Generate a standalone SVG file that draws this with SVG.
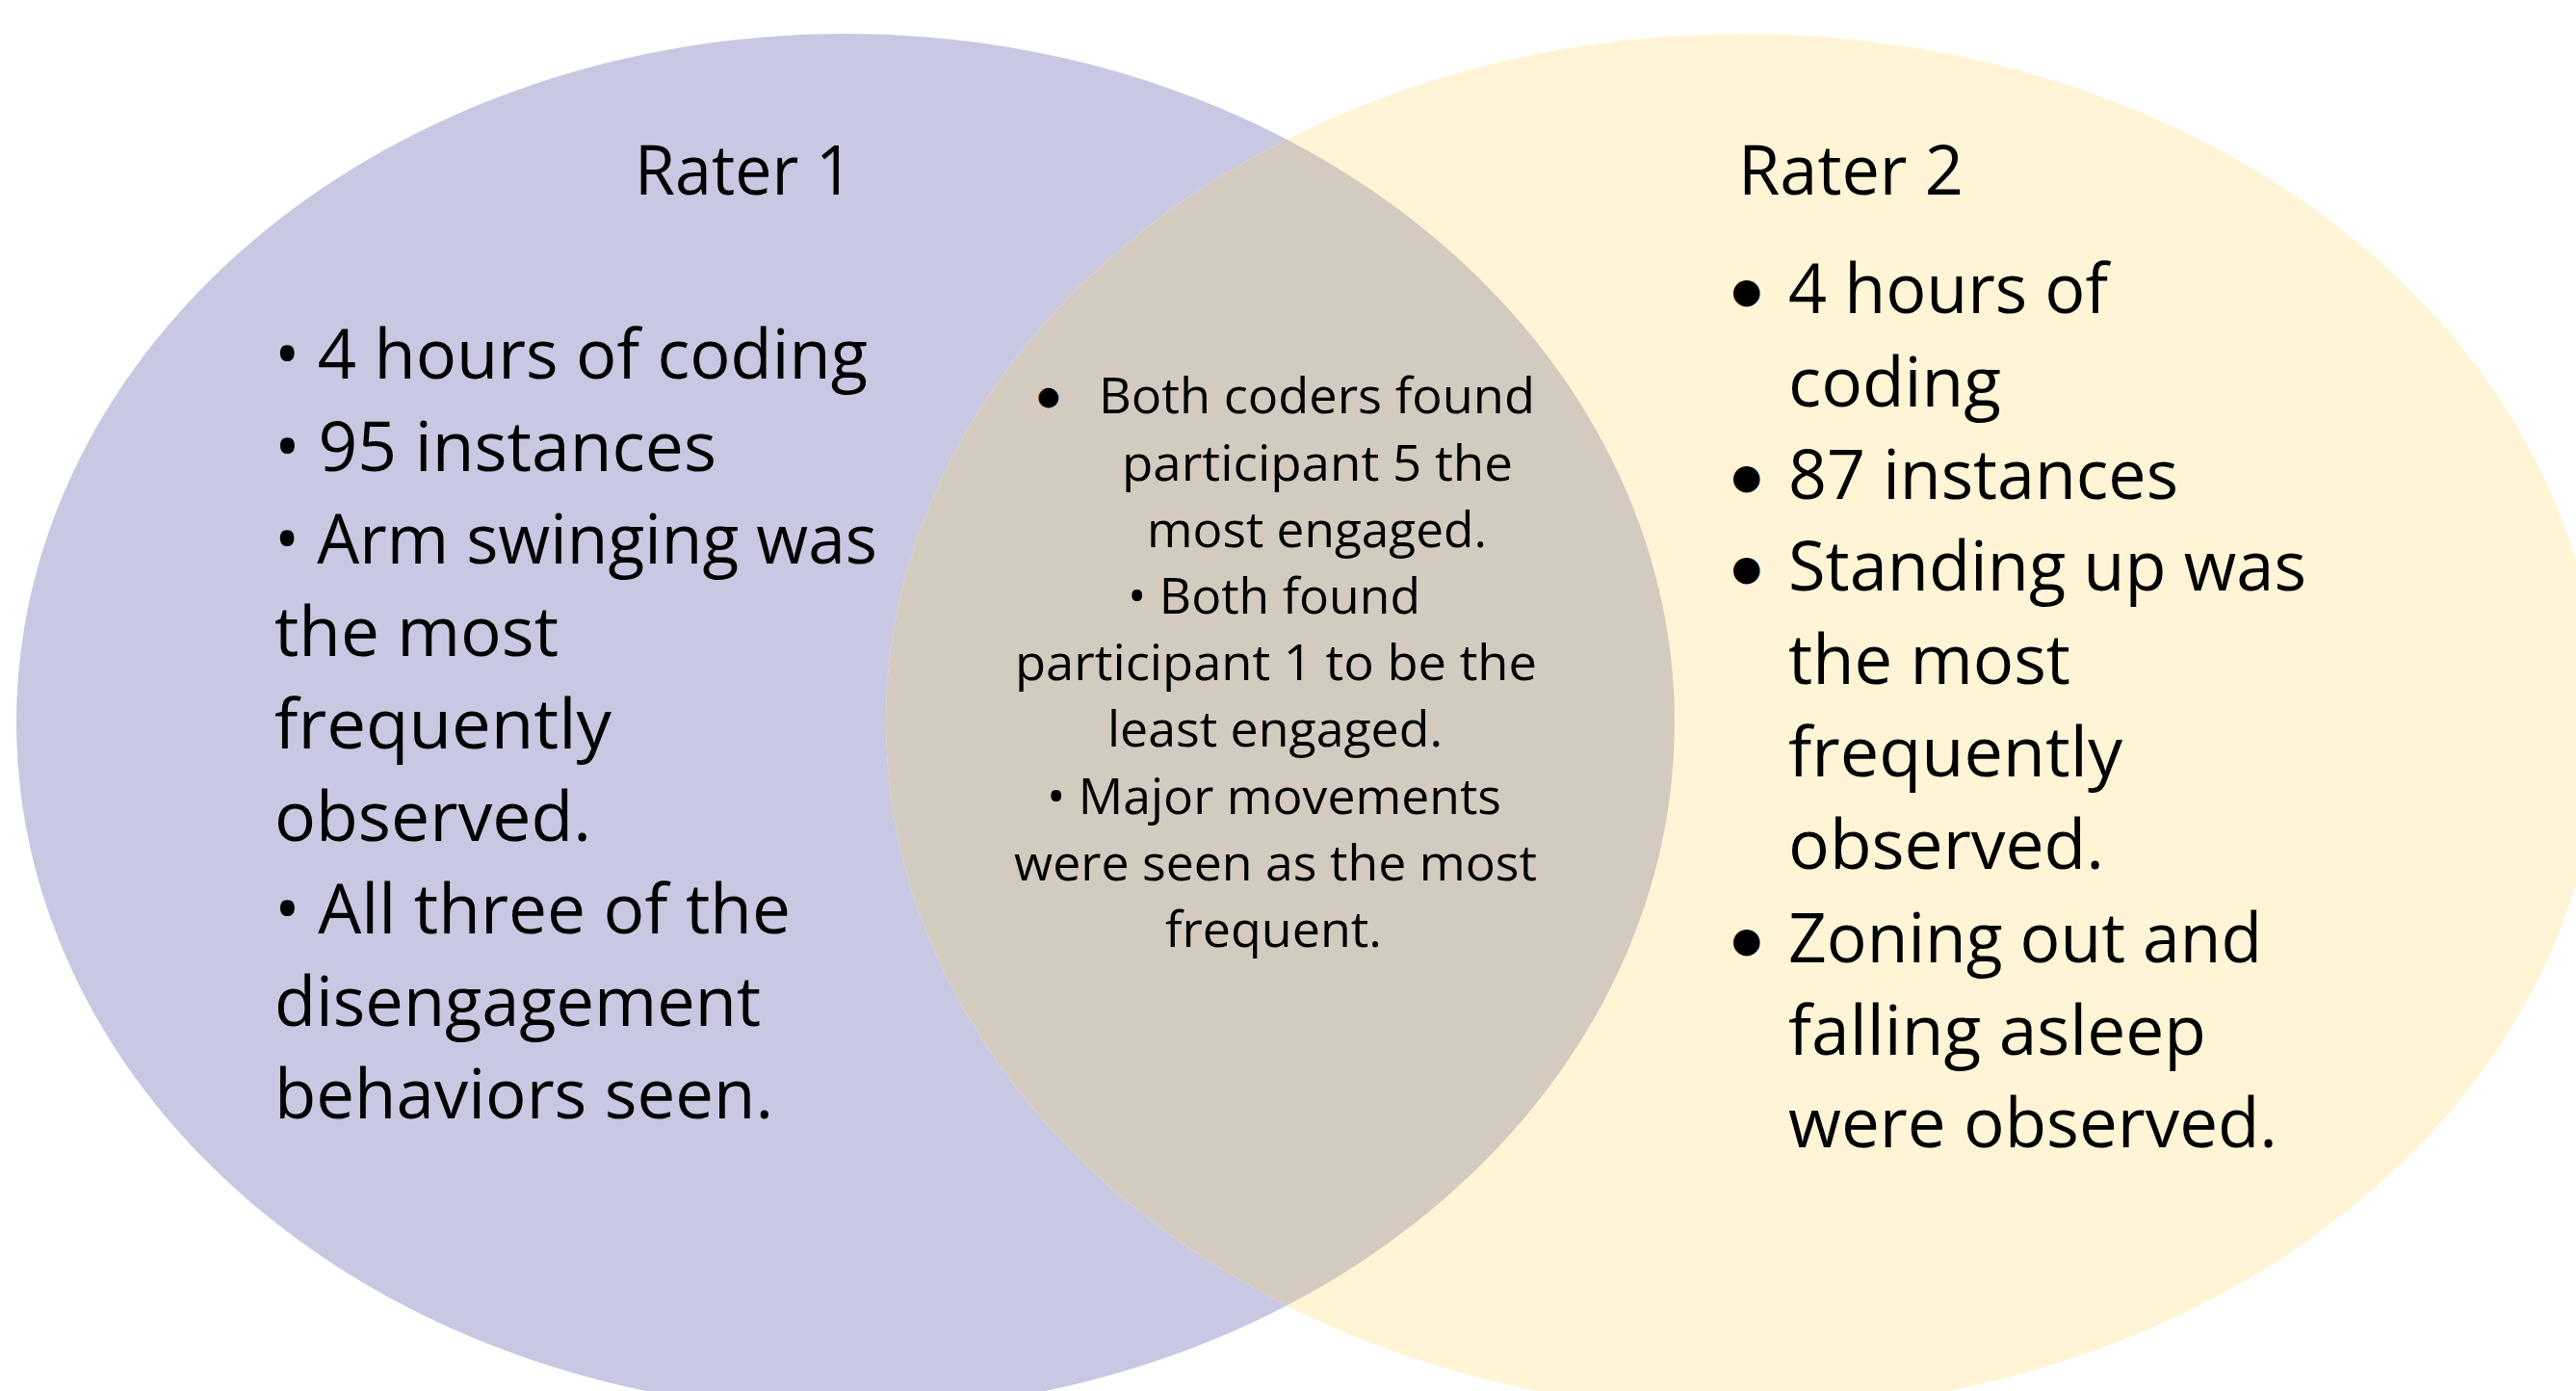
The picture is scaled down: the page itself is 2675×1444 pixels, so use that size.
<svg xmlns="http://www.w3.org/2000/svg" width="2675" height="1444" viewBox="0 0 2675 1444">
<style>
  text { font-family: "Open Sans", "Noto Sans", "Liberation Sans", sans-serif; fill: #000000; }
  .title { font-size: 71px; }
  .main { font-size: 72px; }
  .mid { font-size: 52px; }
  .bigdot { font-family: "DejaVu Sans", sans-serif; font-size: 36px; }
  .middot { font-family: "DejaVu Sans", sans-serif; font-size: 27px; }
</style>
<defs>
  <clipPath id="clipRight">
    <ellipse cx="1810" cy="750" rx="890" ry="715"/>
  </clipPath>
</defs>
<rect x="0" y="0" width="2675" height="1444" fill="#ffffff"/>
<g id="rater1">
  <ellipse cx="878" cy="750" rx="861" ry="715" fill="#C8C8E3"/>
</g>
<g id="rater2">
  <ellipse cx="1810" cy="750" rx="890" ry="715" fill="#FFF5D6"/>
</g>
<g id="overlap">
  <ellipse cx="878" cy="750" rx="861" ry="715" fill="#D3CBC0" clip-path="url(#clipRight)"/>
</g>
<g id="connectors"></g>
<g id="rater1-text">
  <text class="title" x="659" y="202" textLength="227" lengthAdjust="spacingAndGlyphs">Rater 1</text>
  <text class="main" x="285" y="393" textLength="616" lengthAdjust="spacingAndGlyphs">• 4 hours of coding</text>
  <text class="main" x="285" y="489" textLength="459" lengthAdjust="spacingAndGlyphs">• 95 instances</text>
  <text class="main" x="285" y="585" textLength="626" lengthAdjust="spacingAndGlyphs">• Arm swinging was</text>
  <text class="main" x="285" y="681" textLength="295" lengthAdjust="spacingAndGlyphs">the most</text>
  <text class="main" x="285" y="777" textLength="350" lengthAdjust="spacingAndGlyphs">frequently</text>
  <text class="main" x="285" y="873" textLength="329" lengthAdjust="spacingAndGlyphs">observed.</text>
  <text class="main" x="285" y="969" textLength="536" lengthAdjust="spacingAndGlyphs">• All three of the</text>
  <text class="main" x="285" y="1065" textLength="505" lengthAdjust="spacingAndGlyphs">disengagement</text>
  <text class="main" x="285" y="1161" textLength="518" lengthAdjust="spacingAndGlyphs">behaviors seen.</text>
</g>
<g id="rater2-text">
  <text class="title" x="1805" y="202" textLength="234" lengthAdjust="spacingAndGlyphs">Rater 2</text>
  <text class="bigdot" x="1798" y="314">●</text>
  <text class="main" x="1857" y="325" textLength="332" lengthAdjust="spacingAndGlyphs">4 hours of</text>
  <text class="main" x="1857" y="422" textLength="221" lengthAdjust="spacingAndGlyphs">coding</text>
  <text class="bigdot" x="1798" y="507">●</text>
  <text class="main" x="1857" y="518" textLength="405" lengthAdjust="spacingAndGlyphs">87 instances</text>
  <text class="bigdot" x="1798" y="602">●</text>
  <text class="main" x="1857" y="613" textLength="538" lengthAdjust="spacingAndGlyphs">Standing up was</text>
  <text class="main" x="1857" y="710" textLength="293" lengthAdjust="spacingAndGlyphs">the most</text>
  <text class="main" x="1857" y="806" textLength="347" lengthAdjust="spacingAndGlyphs">frequently</text>
  <text class="main" x="1857" y="902" textLength="328" lengthAdjust="spacingAndGlyphs">observed.</text>
  <text class="bigdot" x="1798" y="988">●</text>
  <text class="main" x="1857" y="999" textLength="492" lengthAdjust="spacingAndGlyphs">Zoning out and</text>
  <text class="main" x="1857" y="1095" textLength="434" lengthAdjust="spacingAndGlyphs">falling asleep</text>
  <text class="main" x="1857" y="1191" textLength="508" lengthAdjust="spacingAndGlyphs">were observed.</text>
</g>
<g id="overlap-text">
  <text class="middot" x="1077" y="420">●</text>
  <text class="mid" x="1141" y="429" textLength="453" lengthAdjust="spacingAndGlyphs">Both coders found</text>
  <text class="mid" x="1165" y="499" textLength="406" lengthAdjust="spacingAndGlyphs">participant 5 the</text>
  <text class="mid" x="1191" y="568" textLength="353" lengthAdjust="spacingAndGlyphs">most engaged.</text>
  <text class="mid" x="1171" y="637" textLength="304" lengthAdjust="spacingAndGlyphs">• Both found</text>
  <text class="mid" x="1054" y="706" textLength="542" lengthAdjust="spacingAndGlyphs">participant 1 to be the</text>
  <text class="mid" x="1150" y="775" textLength="348" lengthAdjust="spacingAndGlyphs">least engaged.</text>
  <text class="mid" x="1087" y="845" textLength="472" lengthAdjust="spacingAndGlyphs">• Major movements</text>
  <text class="mid" x="1053" y="914" textLength="543" lengthAdjust="spacingAndGlyphs">were seen as the most</text>
  <text class="mid" x="1210" y="983" textLength="225" lengthAdjust="spacingAndGlyphs">frequent.</text>
</g>
</svg>
